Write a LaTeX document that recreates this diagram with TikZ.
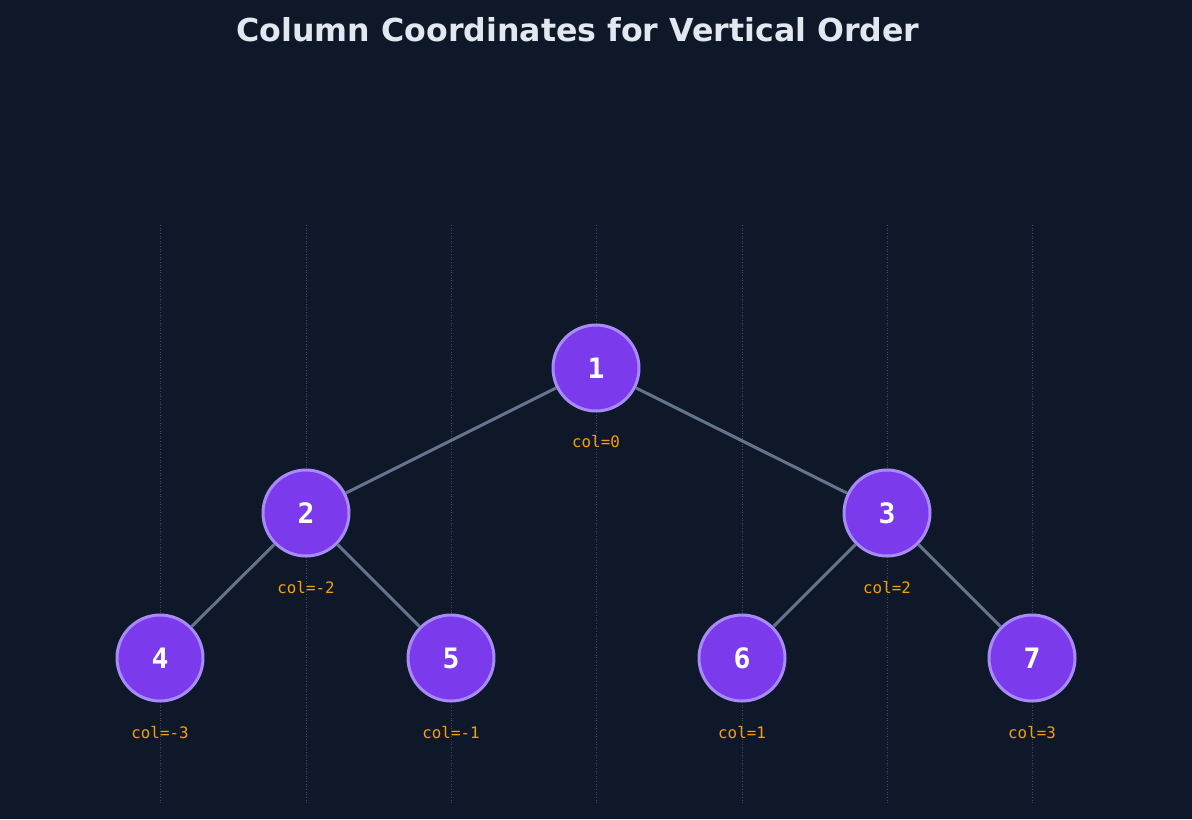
\documentclass[tikz,border=0pt]{standalone}
\usepackage{fontspec}
\setmainfont{DejaVu Sans}
\setmonofont{DejaVu Sans Mono}
\usetikzlibrary{positioning}
\definecolor{bgcol}{HTML}{0F1829}
\definecolor{nodefill}{HTML}{7C3AED}
\definecolor{nodeedge}{HTML}{A78BFA}
\definecolor{linkcol}{HTML}{64748B}
\definecolor{colcol}{HTML}{F59E0B}
\definecolor{gridcol}{HTML}{3B4A63}
\definecolor{titlecol}{HTML}{E2E8F0}
\tikzset{%
  x=0.02cm, y=-0.02cm,
  tree node/.style={
    circle, minimum size=1.72cm, inner sep=0pt,
    fill=nodefill, draw=nodeedge, line width=1.7pt,
    text=white, font=\ttfamily\bfseries\fontsize{16}{18}\selectfont},
  col label/.style={
    text=colcol, font=\ttfamily\fontsize{9}{11}\selectfont},
  link/.style={draw=linkcol, line width=1.7pt},
  col line/.style={draw=gridcol, densely dotted, line width=0.5pt}
}
\begin{document}
\begin{tikzpicture}
  \fill[bgcol] (0,0) rectangle (1192,819);
  \useasboundingbox (0,0) rectangle (1192,819);

  \node[text=titlecol, font=\bfseries\fontsize{18}{22}\selectfont] (title) at (578,30) {Column Coordinates for Vertical Order};

  % column guides
  \foreach \x in {160,306,451,596,742,887,1032}
    \draw[col line] (\x,225) -- (\x,803);

  \node[tree node] (n1) at (596,368) {1};
  \node[tree node] (n2) at (306,513) {2};
  \node[tree node] (n3) at (887,513) {3};
  \node[tree node] (n4) at (160,658) {4};
  \node[tree node] (n5) at (451,658) {5};
  \node[tree node] (n6) at (742,658) {6};
  \node[tree node] (n7) at (1032,658) {7};

  \begin{scope}[on background layer/.style={}]
  \end{scope}

  \node[col label] (c1) at (596,442) {col=0};
  \node[col label] (c2) at (306,588) {col=-2};
  \node[col label] (c3) at (887,588) {col=2};
  \node[col label] (c4) at (160,733) {col=-3};
  \node[col label] (c5) at (451,733) {col=-1};
  \node[col label] (c6) at (742,733) {col=1};
  \node[col label] (c7) at (1032,733) {col=3};

  \draw[link] (n1) -- (n2);
  \draw[link] (n1) -- (n3);
  \draw[link] (n2) -- (n4);
  \draw[link] (n2) -- (n5);
  \draw[link] (n3) -- (n6);
  \draw[link] (n3) -- (n7);
\end{tikzpicture}
\end{document}
